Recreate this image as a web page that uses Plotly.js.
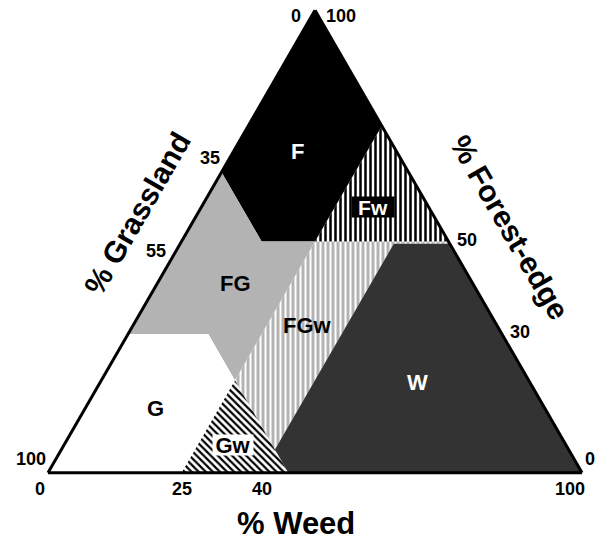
<!DOCTYPE html>
<html>
<head>
<meta charset="utf-8">
<script src="https://cdn.plot.ly/plotly-3.0.1.min.js"></script>
<style>html,body{margin:0;padding:0;background:#fff;}#chart{width:602px;height:541px;}</style>
</head>
<body>
<div id="chart"></div>
<script>
// Region polygons in ternary coordinates: forest = % Forest-edge (top), grass = % Grassland (bottom-left), weed = % Weed (bottom-right)
const forest_F = [100, 65, 50, 50, 75];
const grass_F  = [0, 35, 35, 25, 0];
const weed_F   = [0, 0, 15, 25, 25];

const forest_Fw = [75, 50, 50];
const grass_Fw  = [0, 25, 0];
const weed_Fw   = [25, 25, 50];

const forest_FG = [65, 50, 50, 20, 30, 30];
const grass_FG  = [35, 35, 25, 55, 55, 70];
const weed_FG   = [0, 15, 25, 25, 15, 0];

const forest_FGw = [50, 50, 49.5, 49.5, 5, 20];
const grass_FGw  = [25, 0, 0, 10.5, 55, 55];
const weed_FGw   = [25, 50, 50.5, 40, 40, 25];

const forest_W = [49.5, 49.5, 0, 0, 5];
const grass_W  = [10.5, 0, 0, 55, 55];
const weed_W   = [40, 50.5, 100, 45, 40];

const forest_G = [0, 30, 30, 20, 0];
const grass_G  = [100, 70, 55, 55, 75];
const weed_G   = [0, 0, 15, 25, 25];

const forest_Gw = [20, 0, 0];
const grass_Gw  = [55, 75, 55];
const weed_Gw   = [25, 25, 45];

// Tick labels on each edge
const grassTicks  = [0, 35, 55, 100];   // left edge, % Grassland
const weedTicks   = [0, 25, 40, 100];   // bottom edge, % Weed
const forestTicks = [100, 50, 30, 0];   // right edge, % Forest-edge

// ---- geometry of the plot area (layout) ----
const M = {l: 48, r: 20, t: 10, b: 68};
const PW = 602 - M.l - M.r;           // 534
const PH = 541 - M.t - M.b;           // 463
const TRI_H = PW * Math.sqrt(3) / 2;  // triangle height in px
const OFF = (PH - TRI_H) / 2;         // vertical centering offset used by plotly

// ternary -> cartesian overlay coords (x unit = triangle side)
function cx(a, c) { return a.map((v, i) => (c[i] + v / 2) / 100); }
function cy(a) { return a.map(v => v / 100 * Math.sqrt(3) / 2); }
// ternary -> paper coords
function tp(a, c) { return {x: (c + a / 2) / 100, y: (OFF + TRI_H * a / 100) / PH}; }
function pxp(px, py) { return {x: (px - M.l) / PW, y: (M.t + PH - py) / PH}; }

function tpoly(a, b, c, color) {
  return {type: 'scatterternary', mode: 'lines', a: a, b: b, c: c,
    fill: 'toself', fillcolor: color, line: {width: 0, color: 'rgba(0,0,0,0)'},
    hoverinfo: 'skip', showlegend: false};
}
function ppoly(a, c, pattern, bg) {
  return {type: 'scatter', mode: 'lines', x: cx(a, c), y: cy(a), xaxis: 'x', yaxis: 'y',
    fill: 'toself', fillcolor: bg, fillpattern: pattern,
    line: {width: 0, color: 'rgba(0,0,0,0)'}, hoverinfo: 'skip', showlegend: false};
}

const traces = [
  ppoly(forest_FGw, weed_FGw, {shape: '|', bgcolor: '#b3b3b3', fgcolor: '#ffffff', size: 5, solidity: 0.4}, '#b3b3b3'),
  ppoly(forest_Fw, weed_Fw, {shape: '|', bgcolor: '#ffffff', fgcolor: '#000000', size: 5, solidity: 0.5}, '#ffffff'),
  ppoly(forest_Gw, weed_Gw, {shape: '\\', bgcolor: '#ffffff', fgcolor: '#000000', size: 5, solidity: 0.45}, '#ffffff'),
  tpoly(forest_W, grass_W, weed_W, '#333333'),
  tpoly(forest_F, grass_F, weed_F, '#000000'),
  tpoly(forest_FG, grass_FG, weed_FG, '#b3b3b3'),
  tpoly(forest_G, grass_G, weed_G, '#ffffff')
];

function axis() {
  return {showticklabels: false, ticks: '', showgrid: false, showline: true,
    linecolor: '#000', linewidth: 3, min: 0, title: {text: ''}};
}

const FAM = 'Liberation Sans, Arial, sans-serif';
function ann(text, pos, o) {
  return Object.assign({xref: 'paper', yref: 'paper', x: pos.x, y: pos.y, text: '<b>' + text + '</b>',
    showarrow: false, xanchor: 'center', yanchor: 'middle',
    font: {family: FAM, size: 22, color: '#000'}}, o || {});
}
const tickFont = {family: FAM, size: 18, color: '#000'};
const annotations = [];

// tick labels
grassTicks.forEach(g => {
  const special = g === 0;
  annotations.push(ann(String(g), tp(100 - g, 0), {font: tickFont, xanchor: 'right',
    xshift: special ? -12 : 0, yshift: special ? -6 : 14}));
});
weedTicks.forEach(w => {
  annotations.push(ann(String(w), tp(0, w), {font: tickFont,
    xshift: w === 0 ? -8 : (w === 100 ? -12 : 0), yshift: -16}));
});
forestTicks.forEach(f => {
  let xs = 6, ys = 2;
  if (f === 100) { xs = 9; ys = -6; }
  if (f === 0) { xs = 1; ys = 14; }
  annotations.push(ann(String(f), tp(f, 100 - f), {font: tickFont, xanchor: 'left', xshift: xs, yshift: ys}));
});

// region labels
annotations.push(
  ann('F', pxp(297, 151), {font: {family: FAM, size: 22, color: '#fff'}}),
  ann('Fw', pxp(373, 207), {font: {family: FAM, size: 21, color: '#fff'}, bgcolor: '#000', borderpad: 0, width: 42, height: 20}),
  ann('FG', pxp(235, 284)),
  ann('FGw', pxp(307, 325)),
  ann('G', pxp(155, 408)),
  ann('Gw', pxp(233, 445), {bgcolor: '#fff', borderpad: 0, width: 40, height: 20}),
  ann('W', pxp(417, 382), {font: {family: FAM, size: 22, color: '#fff'}}),
  // axis titles
  ann('% Weed', pxp(296, 523), {font: {family: FAM, size: 31, color: '#000'}, height: 32}),
  ann('% Grassland', pxp(137, 213), {font: {family: FAM, size: 30, color: '#000'}, textangle: -60}),
  ann('% Forest-edge', pxp(510, 227), {font: {family: FAM, size: 30, color: '#000'}, textangle: 60})
);

const layout = {
  width: 602, height: 541,
  margin: M,
  paper_bgcolor: '#fff',
  plot_bgcolor: 'rgba(0,0,0,0)',
  showlegend: false,
  xaxis: {domain: [0, 1], range: [0, 1], visible: false, fixedrange: true},
  yaxis: {domain: [0, 1], range: [-OFF / PW, (PH - OFF) / PW], visible: false, fixedrange: true},
  ternary: {
    sum: 100,
    bgcolor: 'rgba(0,0,0,0)',
    domain: {x: [0, 1], y: [0, 1]},
    aaxis: axis(), baxis: axis(), caxis: axis()
  },
  annotations: annotations
};

Plotly.newPlot('chart', traces, layout, {staticPlot: true, displayModeBar: false});
</script>
</body>
</html>
